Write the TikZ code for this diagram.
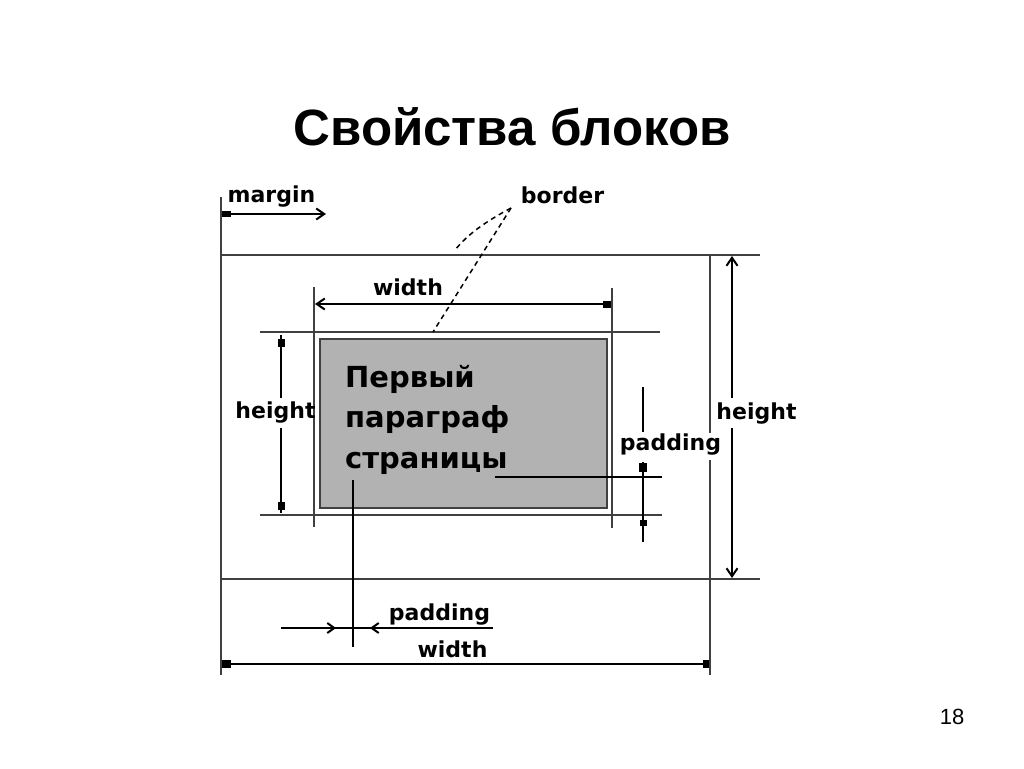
\documentclass[tikz,border=0pt]{standalone}
\usepackage{fontspec}
\setmainfont{Liberation Sans}
\newfontfamily\djv{DejaVu Sans}
\usetikzlibrary{arrows.meta}
\tikzset{
  ext/.style={draw=black!75, line width=1.4pt},
  dim/.style={draw=black, line width=2pt},
  lbl/.style={inner sep=0pt, anchor=base, font=\djv\bfseries\fontsize{22}{26}\selectfont},
  para/.style={inner sep=0pt, anchor=base west, font=\djv\bfseries\fontsize{29}{35}\selectfont},
  sq/.style={fill=black},
  brd/.style={draw=black, line width=1.5pt, dash pattern=on 5pt off 4pt},
}
\begin{document}
\begin{tikzpicture}[x=1pt,y=-1pt]
\useasboundingbox (0,0) rectangle (1024,768);
% title
\node[inner sep=0pt, anchor=base, font=\bfseries\fontsize{51}{56}\selectfont] (title) at (512,145) {Свойства блоков};
\node[inner sep=0pt, anchor=base, font=\fontsize{22}{26}\selectfont] (pnum) at (952,724) {18};

% grey box
\draw[fill=black!30, draw=black!75, line width=2pt] (320,339) rectangle (607,508);
\node[para] (para1) at (345,387) {Первый};
\node[para] (para2) at (345,427.5) {параграф};
\node[para] (para3) at (345,468) {страницы};

% extension lines
\draw[ext] (221,197) -- (221,675);
\draw[ext] (221,255) -- (760,255);
\draw[ext] (221,579) -- (760,579);
\draw[ext] (710,255) -- (710,433);
\draw[ext] (710,460) -- (710,675);
\draw[ext] (260,332) -- (660,332);
\draw[ext] (260,515) -- (662,515);
\draw[ext] (314,287) -- (314,527);
\draw[ext] (612,288) -- (612,528);

% margin
\coordinate (m1) at (222,214);
\coordinate (m2) at (326,214);
\draw[dim, {Square[length=9pt,width=6pt]}-{Straight Barb[length=8pt,width=11pt]}] (m1) -- (m2);
\node[lbl] (margin) at (271.5,202) {margin};

% border
\node[lbl] (border) at (562.5,203) {border};
\coordinate (b0) at (511,208);
\coordinate (b1) at (455,250);
\coordinate (b2) at (433,332);
\draw[brd] (b0) .. controls (485,222) and (468,234) .. (b1);
\draw[brd] (b0) -- (b2);

% top width
\coordinate (w1) at (315,304);
\coordinate (w2) at (611,304);
\draw[dim, {Straight Barb[length=8pt,width=11pt]}-{Square[length=8pt,width=7pt]}] (w1) -- (w2);
\node[lbl] (wtop) at (408,295) {width};

% left height
\draw[dim] (281,335) -- (281,398);
\draw[dim] (281,428) -- (281,513);
\fill[sq] (277.5,339) rectangle (284.5,347);
\fill[sq] (277.5,502) rectangle (284.5,510);
\node[lbl] (hleft) at (275.5,418) {height};

% right height
\coordinate (h1) at (732,256);
\coordinate (h2) at (732,398);
\coordinate (h3) at (732,428);
\coordinate (h4) at (732,578);
\draw[dim, {Straight Barb[length=8pt,width=11pt]}-] (h1) -- (h2);
\draw[dim, -{Straight Barb[length=8pt,width=11pt]}] (h3) -- (h4);
\node[lbl] (hright) at (756.5,419) {height};

% right padding
\draw[dim] (643,387) -- (643,432);
\draw[dim] (643,462) -- (643,542);
\fill[sq] (639,463) rectangle (647,472);
\fill[sq] (639.5,520) rectangle (646.5,526);
\draw[dim] (495,477) -- (662,477);
\node[lbl] (pright) at (670.5,450) {padding};

% bottom padding
\draw[dim] (353,480) -- (353,647);
\coordinate (p1) at (281,628);
\coordinate (p2) at (493,628);
\draw[dim] (p1) -- (p2);
\draw[dim, -{Straight Barb[length=7pt,width=10pt]}] (325,628) -- (336,628);
\draw[dim, -{Straight Barb[length=7pt,width=10pt]}] (381,628) -- (370,628);
\node[lbl] (pbot) at (439.5,620) {padding};

% bottom width
\coordinate (bw1) at (222,664);
\coordinate (bw2) at (709,664);
\draw[dim, {Square[length=9pt,width=8pt]}-{Square[length=6pt,width=8pt]}] (bw1) -- (bw2);
\node[lbl] (wbot) at (452.5,657) {width};
\end{tikzpicture}
\end{document}
